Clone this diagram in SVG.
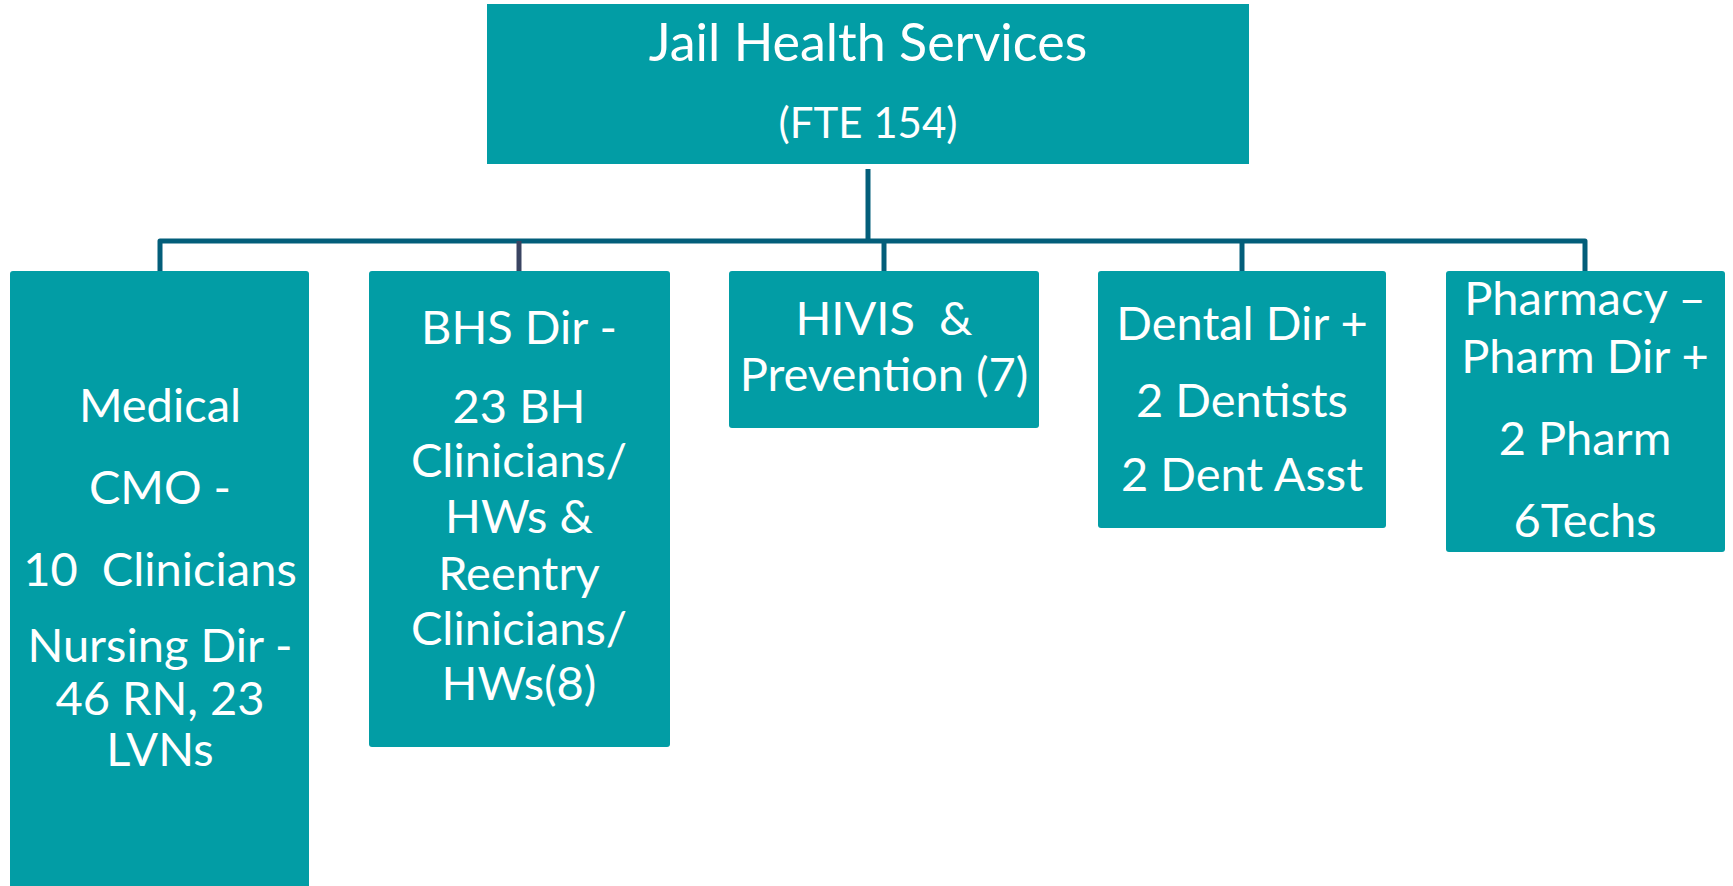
<svg xmlns="http://www.w3.org/2000/svg" width="1733" height="886" viewBox="0 0 1733 886">
<style>
.box{fill:#029DA5;}
.t{font-family:Lato,"Liberation Sans",sans-serif;fill:#ffffff;text-anchor:middle;font-size:47px;}
.title{font-size:52px;}
.sub{font-size:42px;}
.ln{fill:none;stroke:#035E7A;stroke-width:5;stroke-linejoin:round;}
.ln2{fill:none;stroke:#3A4462;stroke-width:5;}
</style>
<rect width="1733" height="886" fill="#ffffff"/>
<g id="connectors">
<path class="ln" d="M868 169 V241"/>
<path class="ln" d="M160 271 V241 H1585 V271"/>
<path class="ln2" d="M519 241 V271"/>
<path class="ln" d="M884 241 V271"/>
<path class="ln" d="M1242 241 V271"/>
</g>
<g id="jail-health-services">
<rect class="box" x="487" y="4" width="762" height="160"/>
<text class="t title" x="868" y="61">Jail Health Services</text>
<text class="t sub" x="868" y="138">(FTE 154)</text>
</g>
<g id="medical">
<rect class="box" x="10" y="271" width="299" height="620" rx="3"/>
<text class="t" x="160" y="422">Medical</text>
<text class="t" x="160" y="504">CMO -</text>
<text class="t" x="160" y="586" xml:space="preserve">10  Clinicians</text>
<text class="t" x="160" y="662">Nursing Dir -</text>
<text class="t" x="160" y="715">46 RN, 23</text>
<text class="t" x="160" y="766">LVNs</text>
</g>
<g id="bhs">
<rect class="box" x="369" y="271" width="301" height="476" rx="3"/>
<text class="t" x="519" y="344">BHS Dir -</text>
<text class="t" x="519" y="423">23 BH</text>
<text class="t" x="519" y="477">Clinicians/</text>
<text class="t" x="519" y="533">HWs &amp;</text>
<text class="t" x="519" y="590">Reentry</text>
<text class="t" x="519" y="645">Clinicians/</text>
<text class="t" x="519" y="700">HWs(8)</text>
</g>
<g id="hivis">
<rect class="box" x="729" y="271" width="310" height="157" rx="3"/>
<text class="t" x="884" y="335" xml:space="preserve">HIVIS  &amp;</text>
<text class="t" x="884" y="391">Prevention (7)</text>
</g>
<g id="dental">
<rect class="box" x="1098" y="271" width="288" height="257" rx="3"/>
<text class="t" x="1242" y="340">Dental Dir +</text>
<text class="t" x="1242" y="417">2 Dentists</text>
<text class="t" x="1242" y="491">2 Dent Asst</text>
</g>
<g id="pharmacy">
<rect class="box" x="1446" y="271" width="279" height="281" rx="3"/>
<text class="t" x="1585" y="315">Pharmacy –</text>
<text class="t" x="1585" y="373">Pharm Dir +</text>
<text class="t" x="1585" y="455">2 Pharm</text>
<text class="t" x="1585" y="537">6Techs</text>
</g>
</svg>
